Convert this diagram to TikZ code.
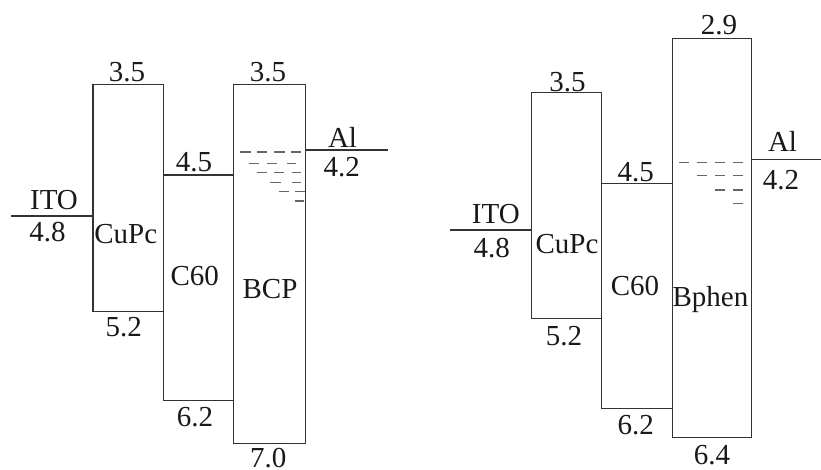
\documentclass[tikz,border=0pt]{standalone}
\usepackage{fontspec}
\setmainfont{Liberation Serif}
\begin{document}
\begin{tikzpicture}[x=1pt,y=-1pt,
  box/.style={draw=black!80, line width=1.2pt, rectangle, inner sep=0pt, outer sep=0pt, anchor=north west},
  lvl/.style={draw=black!80, line width=1.2pt},
  dsh/.style={draw=black!60, line width=1.2pt},
  lab/.style={inner sep=0pt, anchor=base, font=\fontsize{29}{33}\selectfont, text=black!90}]
\useasboundingbox (0,0) rectangle (821,469);
% ---------- left diagram ----------
\node[box, minimum width=70.3pt, minimum height=227pt] (cupcL) at (93,84.3) {};
\node[box, minimum width=70pt, minimum height=225.3pt] (c60L) at (163.3,175) {};
\node[box, minimum width=72.4pt, minimum height=359pt] (bcpL) at (233.3,84.3) {};
\coordinate (itoLa) at (11,216);
\coordinate (alLb) at (388,150);
\draw[lvl] (itoLa) -- (itoLa -| cupcL.west);
\draw[lvl] (alLb -| bcpL.east) -- (alLb);
\foreach \a/\b/\y in {240/250.7/152, 257/267/152, 274/285/152, 290.7/301.3/152,
  249.3/259.3/163.3, 267/277/163.3, 286.7/296/163.3,
  257/267/172.7, 274/284/172.7, 291.7/301.3/172.7,
  270/280.7/182.3, 291.7/301.3/182.3,
  278.7/288.7/191.3, 295.3/305.3/191.3,
  294.7/304/201}
  \draw[dsh] (\a,\y) -- (\b,\y);
\node[lab] (l35a) at (127,81.7) {3.5};
\node[lab] (l35b) at (268,81.7) {3.5};
\node[lab] (l45) at (194,171.7) {4.5};
\node[lab] (lal) at (342.5,147.3) {Al};
\node[lab] (l42) at (341.7,176.7) {4.2};
\node[lab] (lito) at (54,209.3) {ITO};
\node[lab] (l48) at (47.5,241) {4.8};
\node[lab] (lcupc) at (125.8,243.3) {CuPc};
\node[lab] (lc60) at (194.7,285) {C60};
\node[lab] (lbcp) at (270,298.3) {BCP};
\node[lab] (l52) at (123.8,336) {5.2};
\node[lab] (l62) at (195,426) {6.2};
\node[lab] (l70) at (268.3,467.5) {7.0};
% ---------- right diagram ----------
\node[box, minimum width=70pt, minimum height=226pt] (cupcR) at (531.7,92.3) {};
\node[box, minimum width=70.6pt, minimum height=225pt] (c60R) at (601.7,183.3) {};
\node[box, minimum width=79.4pt, minimum height=399pt] (bphR) at (672.3,38.3) {};
\coordinate (itoRa) at (450,230);
\coordinate (alRb) at (821,159.3);
\draw[lvl] (itoRa) -- (itoRa -| cupcR.west);
\draw[lvl] (alRb -| bphR.east) -- (alRb);
\foreach \a/\b/\y in {679.3/689.3/162.7, 697.3/707.3/162.7, 715.3/725.3/162.7, 733.3/743.3/162.7,
  697.3/707.3/175.7, 715.3/725.3/175.7, 733.3/743.3/175.7,
  715.3/725.3/190, 733.3/743.3/190,
  733.3/743.3/203.3}
  \draw[dsh] (\a,\y) -- (\b,\y);
\node[lab] (r29) at (719,34.7) {2.9};
\node[lab] (r35) at (567.5,91.7) {3.5};
\node[lab] (r45) at (635.8,181) {4.5};
\node[lab] (ral) at (782.5,151.7) {Al};
\node[lab] (r42) at (781,189.3) {4.2};
\node[lab] (rito) at (495.8,223.3) {ITO};
\node[lab] (r48) at (491.7,257.3) {4.8};
\node[lab] (rcupc) at (567,253.3) {CuPc};
\node[lab] (rc60) at (635,295) {C60};
\node[lab] (rbph) at (710.5,306.7) {Bphen};
\node[lab] (r52) at (564,345) {5.2};
\node[lab] (r62) at (635.8,434) {6.2};
\node[lab] (r64) at (712,464.5) {6.4};
\end{tikzpicture}
\end{document}
